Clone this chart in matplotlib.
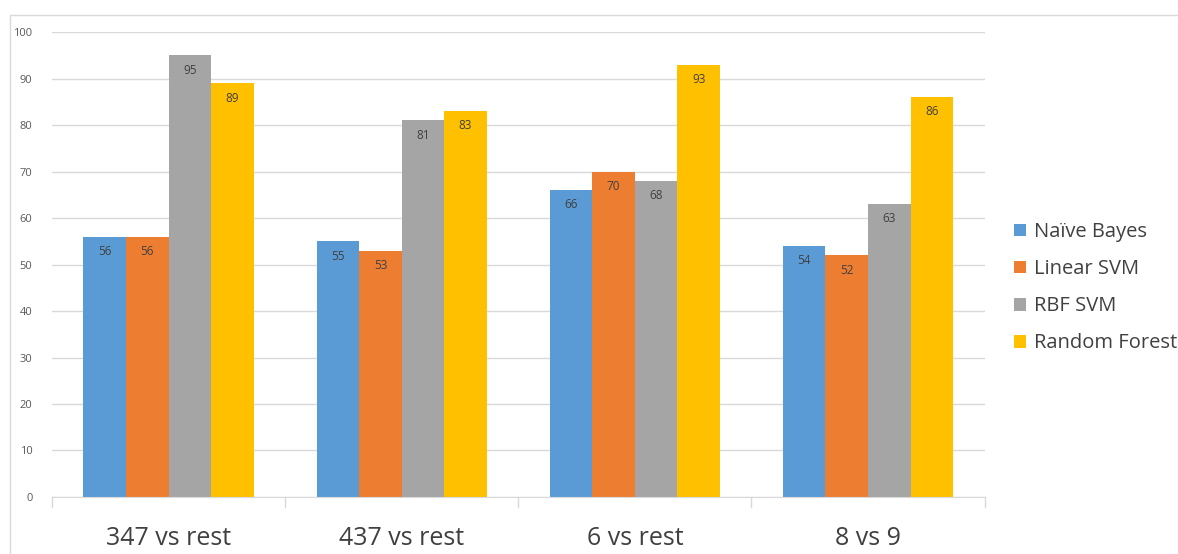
import matplotlib.pyplot as plt
import numpy as np
from matplotlib.patches import Rectangle

# accuracy (%) per classification task
tasks = ["347 vs rest", "437 vs rest", "6 vs rest", "8 vs 9"]
naive_bayes = [56, 55, 66, 54]
linear_svm = [56, 53, 70, 52]
rbf_svm = [95, 81, 68, 63]
random_forest = [89, 83, 93, 86]

series = {
    "Naïve Bayes": (naive_bayes, "#5B9BD5"),
    "Linear SVM": (linear_svm, "#ED7D31"),
    "RBF SVM": (rbf_svm, "#A5A5A5"),
    "Random Forest": (random_forest, "#FFC000"),
}

plt.rcParams["font.family"] = ["Open Sans", "DejaVu Sans"]

fig = plt.figure(figsize=(11.78, 5.54), dpi=100)
ax = fig.add_axes([0.0441, 0.1029, 0.7917, 0.8393])

# outer chart frame
fig.patches.append(Rectangle((10 / 1178, -0.1), 1.2, 1 - 15 / 554 + 0.1,
                             transform=fig.transFigure, fill=False,
                             edgecolor="#D9D9D9", linewidth=1.0))

x = np.arange(len(tasks))
width = 0.1825
for i, (name, (vals, color)) in enumerate(series.items()):
    pos = x + (i - 1.5) * width
    bars = ax.bar(pos, vals, width, color=color, label=name, zorder=2)
    for b, v in zip(bars, vals):
        ax.text(b.get_x() + b.get_width() / 2, v - 3.2, str(v),
                ha="center", va="center", fontsize=8.5, color="#404040")

ax.set_xlim(-0.5, len(tasks) - 0.5)
ax.set_ylim(0, 100)
ax.set_yticks(range(0, 101, 10))
ax.yaxis.grid(True, color="#D9D9D9", linewidth=1.0, zorder=0)
ax.set_axisbelow(True)

for s in ["top", "right", "left"]:
    ax.spines[s].set_visible(False)
ax.spines["bottom"].set_color("#D9D9D9")

ax.tick_params(axis="y", length=0, labelsize=8, labelcolor="#595959", pad=14)
ax.set_xticks(x)
ax.set_xticklabels(tasks, fontsize=18, color="#404040")
ax.tick_params(axis="x", length=0, pad=21)

# separators between categories
for sep in np.arange(-0.5, len(tasks), 1.0):
    ax.plot([sep, sep], [0, -2.2], color="#D9D9D9", linewidth=1.0,
            clip_on=False)

ax.legend(loc="center left", bbox_to_anchor=(1.012, 0.45), frameon=False,
          fontsize=14.5, labelcolor="#404040", handlelength=0.6,
          handleheight=0.6, handletextpad=0.4, labelspacing=0.85)

fig.savefig("out.png", dpi=100)
